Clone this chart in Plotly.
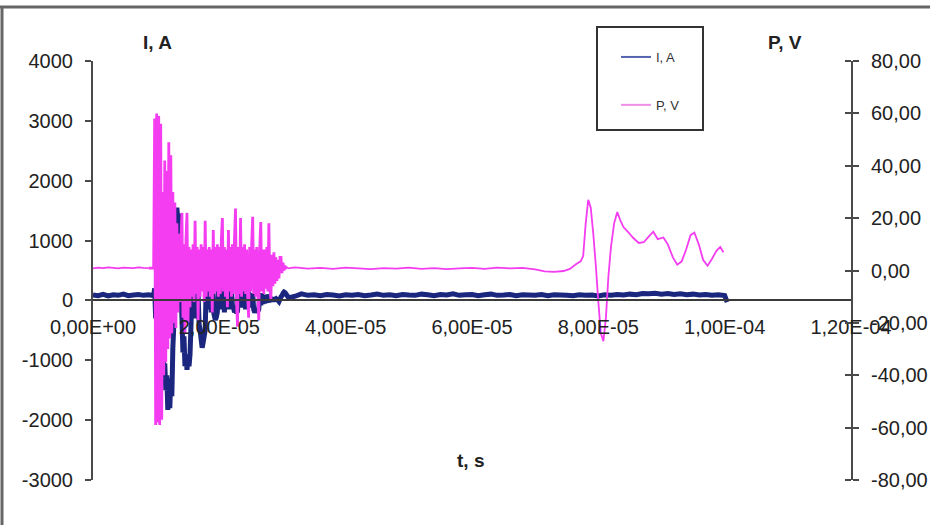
import numpy as np
import plotly.graph_objects as go

# ---------------------------------------------------------------
# Discharge record: current I (A, left axis) and probe voltage P (V, right axis)
# ---------------------------------------------------------------

# quiet lead-in before the discharge (times in microseconds)
pre_t_us = [0.0, 0.8, 1.6, 2.4, 3.2, 4.0, 4.8, 5.6, 6.4, 7.2, 8.0, 8.8]
pre_i = [90, 80, 100, 75, 95, 85, 105, 80, 90, 100, 85, 95]
pre_p = [0.8, 1.1, 0.9, 1.2, 1.0, 0.8, 1.1, 1.0, 0.9, 1.2, 1.0, 0.9]

# discharge burst, sampled every 0.16 us starting at 9.6 us
BURST_T0_US = 9.6
BURST_DT_US = 0.16
burst_i = [
    80, 200, -300, 400, -600, 300, -900, 200, -1100, -400,
    -1300, -1050, -1500, -1250, -1830, -1500, -1800, -1300, -1600, -800,
    -400, 500, 900, 1550, 1300, 1450, 600, 200, -300, -870,
    -600, -1100, -900, -1160, -950, -1100, -900, -400, 200, -300,
    300, -200, 400, -300, 100, -400, -490, -650, -790, -700,
    -600, -500, 200, -100, 300, -150, 250, -200, 300, -160,
    -250, -325, -280, -200, 200, 350, -150, 250, -100, 300,
    -200, 200, -150, 250, -100, 300, -150, 200, -100, -110,
    -200, -150, -210, -180, 200, -100, 150, -120, 200, -100,
    150, -150, 100, -100, 150, -120, 100, -100, 120, -150,
    -200, -170, -130, -180, -150, 100, -80, 120, -60, 90,
    -50, 80, -40, 100, -30, 60, 0, 50, -20, 40,
    20, 30, 10, 0, -20, 20, 60, 80, 120, 140,
    130,
]
burst_p = [
    1, 58, -59, 60, -58, 59, -59, 56, -57, 30,
    -40, 42, -35, 38, -30, 49, -26, 44, -24, 30,
    -20, 26, -22, 18, -16, 14, -12, 12, 22, -18,
    10, -24, 12, 22, -20, 9, -14, 8, -10, 10,
    -12, 19, -9, 9, -19, 8, -10, 10, -8, 9,
    -12, 19, -10, 8, -8, 9, -10, 8, -16, 15.5,
    -9, 9, -8, 10, -10, 9, -9, 12, 20, -8,
    9, -10, 8, -14, 15.5, -8, 9, -10, 10, -9,
    12, 23.7, -12, -21.5, 9, -9, 20, -10, 9, -8,
    10, -9, 8, -10, -18, 9, -8, 10, 20.5, -9,
    8, -10, 9, -8, -19, 9, 18.5, -8, 8, -9,
    8, -7, 9, -8, 18, -7, -11, 6, -6, 7,
    -5, 5, -4, 4, -3, 5, 5, -1, 3, 0,
    1.5,
]

# current after the burst, every 1 us
tail_i_t_us = [
    31, 32, 33, 34, 35, 36, 37, 38, 39, 40,
    41, 42, 43, 44, 45, 46, 47, 48, 49, 50,
    51, 52, 53, 54, 55, 56, 57, 58, 59, 60,
    61, 62, 63, 64, 65, 66, 67, 68, 69, 70,
    71, 72, 73, 74, 75, 76, 77, 78, 79, 80,
    81, 82, 83, 84, 85, 86, 87, 88, 89, 90,
    91, 92, 93, 94, 95, 96, 97, 98, 99, 100,
    100.4,
]
tail_i = [
    40, 70, 110, 85, 95, 80, 100, 90, 75, 95,
    85, 100, 80, 90, 105, 85, 95, 80, 100, 90,
    85, 105, 95, 80, 100, 90, 110, 85, 95, 100,
    80, 95, 105, 85, 90, 100, 80, 95, 90, 85,
    100, 80, 95, 90, 85, 80, 95, 85, 90, 75,
    95, 85, 100, 90, 105, 95, 115, 110, 120, 105,
    115, 100, 110, 95, 105, 90, 100, 85, 95, 80,
    -30,
]

# voltage after the burst: flat, then the late ringing
tail_p_t_us = [
    30.8, 32, 34, 36, 38, 40, 42, 44, 46, 48,
    50, 52, 54, 56, 58, 60, 62, 64, 66, 68,
    70, 71.5, 73, 74.5, 75.5, 76.5, 77.2, 77.6, 78.0, 78.4,
    78.8, 79.2, 79.6, 80.0, 80.4, 80.8, 81.2, 81.6, 82.0, 82.5,
    83.0, 83.5, 84.0, 84.8, 85.5, 86.4, 87.2, 88.0, 88.7, 89.4,
    90.3, 91.0, 91.8, 92.5, 93.2, 93.9, 94.6, 95.2, 95.9, 96.6,
    97.3, 98.0, 98.7, 99.3, 99.8,
]
tail_p = [
    0.8, 1.2, 0.7, 1.0, 0.6, 1.1, 0.8, 0.5, 0.9, 0.7,
    1.1, 0.6, 0.9, 0.5, 0.8, 1.0, 0.6, 1.1, 0.8, 1.0,
    0.4, -0.3, -0.5, -0.2, 0.6, 2.5, 3.5, 5.5, 18, 27,
    24, 14, 2, -12, -24, -27, -18, -2, 9, 18,
    22.3, 19, 16.5, 14.5, 12.5, 10.5, 10.8, 13, 14.8, 12,
    12.6, 10, 5, 2.2, 3.5, 8, 13.5, 14.5, 10, 4,
    1.8, 4.5, 7.5, 9, 7,
]

# axis ticks and their labels (comma decimal separator)
x_ticks = [0, 2e-5, 4e-5, 6e-5, 8e-5, 1e-4, 1.2e-4]
x_labels = ["0,00E+00", "2,00E-05", "4,00E-05", "6,00E-05",
            "8,00E-05", "1,00E-04", "1,20E-04"]
i_ticks = [-3000, -2000, -1000, 0, 1000, 2000, 3000, 4000]
i_labels = ["-3000", "-2000", "-1000", "0", "1000", "2000", "3000", "4000"]
p_ticks = [-80, -60, -40, -20, 0, 20, 40, 60, 80]
p_labels = ["-80,00", "-60,00", "-40,00", "-20,00", "0,00",
            "20,00", "40,00", "60,00", "80,00"]

I_RANGE = [-3000, 4000]
P_RANGE = [-80, 80]
X_RANGE = [0, 1.2e-4]

# ---------------------------------------------------------------
burst_t_us = BURST_T0_US + BURST_DT_US * np.arange(len(burst_i))
t_i = np.concatenate([pre_t_us, burst_t_us, tail_i_t_us]) * 1e-6
series_i = np.concatenate([pre_i, burst_i, tail_i])
# voltage: the dense burst is stroked heavier than the quiet parts
t_p_burst = np.concatenate([[pre_t_us[-1]], burst_t_us, [tail_p_t_us[0]]]) * 1e-6
p_burst = np.concatenate([[pre_p[-1]], burst_p, [tail_p[0]]])
t_p_pre = np.array(pre_t_us) * 1e-6
t_p_tail = np.array(tail_p_t_us) * 1e-6

BLUE = "#1b267e"
MAGENTA = "#f43cf0"
FONT = "Liberation Sans, Arial, sans-serif"
AXIS = "#4a4a4a"

fig = go.Figure()
fig.add_trace(go.Scatter(x=t_i, y=series_i, mode="lines", yaxis="y",
                         line=dict(color=BLUE, width=5, simplify=False),
                         showlegend=False, hoverinfo="skip"))
for tx, py, w in [(t_p_pre, pre_p, 1.8), (t_p_burst, p_burst, 2.8),
                  (t_p_tail, tail_p, 1.8)]:
    fig.add_trace(go.Scatter(x=tx, y=py, mode="lines", yaxis="y2",
                             line=dict(color=MAGENTA, width=w, simplify=False),
                             showlegend=False, hoverinfo="skip"))
# legend keys with thin strokes
fig.add_trace(go.Scatter(x=[None], y=[None], mode="lines", yaxis="y2",
                         name="I, A", legendgroup="i",
                         line=dict(color="#5563b0", width=2)))
fig.add_trace(go.Scatter(x=[None], y=[None], mode="lines", yaxis="y2",
                         name="P, V", legendgroup="p",
                         line=dict(color="#f08ee8", width=2)))

L, R, T, B = 93, 79, 61, 45
W, H = 930, 525
pw, ph = W - L - R, H - T - B


def px_x(px):
    return (px - L) / pw


def px_y(py):
    return (H - B - py) / ph


zero_frac = (0 - I_RANGE[0]) / (I_RANGE[1] - I_RANGE[0])
# right-axis ticks cross the axis line: major ticks point out, a matching
# set of minor ticks points in
p_inner = [v + 1e-6 for v in p_ticks]

fig.update_layout(
    template="none",
    width=W, height=H, autosize=False,
    margin=dict(l=L, r=R, t=T, b=B, pad=0, autoexpand=False),
    paper_bgcolor="white", plot_bgcolor="white",
    font=dict(family=FONT, color="#222222"),
    xaxis=dict(range=X_RANGE, anchor="free", position=zero_frac,
               automargin=False,
               showline=True, linecolor="#3a3a3a", linewidth=1.5,
               ticks="", tickvals=x_ticks, ticktext=x_labels,
               tickfont=dict(size=20), ticklabelstandoff=9,
               showgrid=False, zeroline=False),
    yaxis=dict(range=I_RANGE, automargin=False,
               showline=True, linecolor=AXIS, linewidth=2,
               ticks="outside", ticklen=6, tickwidth=2, tickcolor=AXIS,
               tickvals=i_ticks, ticktext=i_labels, tickfont=dict(size=20),
               ticklabelstandoff=8, showgrid=False, zeroline=False),
    yaxis2=dict(range=P_RANGE, overlaying="y", side="right", anchor="x",
                automargin=False,
                showline=True, linecolor=AXIS, linewidth=2,
                ticks="outside", ticklen=6, tickwidth=2, tickcolor=AXIS,
                tickvals=p_ticks, ticktext=p_labels, tickfont=dict(size=20),
                ticklabelstandoff=8, showgrid=False, zeroline=False,
                minor=dict(ticks="inside", tickmode="array", tickvals=p_inner,
                           ticklen=6, tickwidth=2, tickcolor=AXIS,
                           showgrid=False)),
    legend=dict(x=px_x(616), y=px_y(42), xanchor="left", yanchor="top",
                bgcolor="rgba(0,0,0,0)", borderwidth=0,
                font=dict(size=13, color="#333333"),
                tracegroupgap=28, itemwidth=30),
    shapes=[
        # legend frame
        dict(type="rect", xref="paper", yref="paper",
             x0=px_x(597), x1=px_x(703), y0=px_y(130), y1=px_y(27),
             line=dict(color="#333333", width=2)),
        # outer chart border (top and left edges)
        dict(type="line", xref="paper", yref="paper",
             x0=px_x(0), x1=px_x(930), y0=px_y(7), y1=px_y(7),
             line=dict(color="#666666", width=3)),
        dict(type="line", xref="paper", yref="paper",
             x0=px_x(2), x1=px_x(2), y0=px_y(7), y1=px_y(525),
             line=dict(color="#666666", width=3)),
    ],
    annotations=[
        dict(text="<b>I, A</b>", xref="paper", yref="paper",
             x=px_x(157), y=px_y(42), xanchor="center", yanchor="middle",
             showarrow=False, font=dict(size=19, color="#222222")),
        dict(text="<b>P, V</b>", xref="paper", yref="paper",
             x=px_x(785), y=px_y(42), xanchor="center", yanchor="middle",
             showarrow=False, font=dict(size=19, color="#222222")),
        dict(text="<b>t, s</b>", xref="paper", yref="paper",
             x=px_x(470), y=px_y(460), xanchor="center", yanchor="middle",
             showarrow=False, font=dict(size=19, color="#222222")),
    ],
)

fig.write_html(
    "out.html",
    config={"responsive": False, "displayModeBar": False},
    post_script="document.documentElement.style.overflow='hidden';"
                "document.body.style.overflow='hidden';",
)
